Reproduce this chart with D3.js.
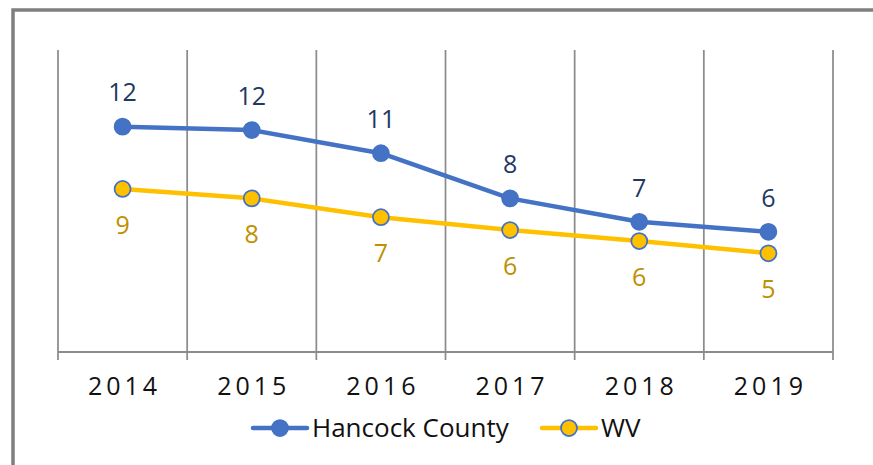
<!DOCTYPE html>
<html>
<head>
<meta charset="utf-8">
<script src="https://cdn.jsdelivr.net/npm/d3@7"></script>
<style>
  body { margin: 0; background: #fff; }
  svg { display: block; font-family: "Open Sans", sans-serif; }
</style>
</head>
<body>
<div id="chart"></div>
<script>
const years = ["2014", "2015", "2016", "2017", "2018", "2019"];
const hancock = [11.94, 11.76, 10.53, 8.14, 6.9, 6.37];
const wv = [8.64, 8.14, 7.14, 6.46, 5.88, 5.23];
const seriesNames = ["Hancock County", "WV"];

const width = 873, height = 465;
const margins = { top: 50, right: 40, bottom: 113, left: 58 };

const blue = "#4472C4", gold = "#FFC000";

const svg = d3.select("#chart").append("svg")
    .attr("width", width)
    .attr("height", height);

// outer frame (runs off the right / bottom edge)
svg.append("rect")
    .attr("x", 13).attr("y", 10)
    .attr("width", 900).attr("height", 500)
    .attr("fill", "none")
    .attr("stroke", "#7f7f7f")
    .attr("stroke-width", 3.5);

const x = d3.scaleBand()
    .domain(years)
    .range([margins.left, width - margins.right])
    .padding(0);
const y = d3.scaleLinear()
    .domain([0, 16])
    .range([height - margins.bottom, margins.top]);

const edges = years.map(d => x(d)).concat([x.range()[1]]);

// vertical gridlines between categories
svg.append("g").selectAll("line")
    .data(edges)
    .join("line")
    .attr("x1", d => d).attr("x2", d => d)
    .attr("y1", y(16)).attr("y2", y(0) + 8)
    .attr("stroke", "#8c8c8c")
    .attr("stroke-width", 1.75);

// category axis
svg.append("line")
    .attr("x1", edges[0]).attr("x2", edges[edges.length - 1])
    .attr("y1", y(0)).attr("y2", y(0))
    .attr("stroke", "#8c8c8c")
    .attr("stroke-width", 2);

const gx = svg.append("g")
    .attr("transform", `translate(0,${y(0)})`)
    .call(d3.axisBottom(x).tickSize(0).tickPadding(0))
    .call(g => g.select(".domain").remove());
gx.selectAll("text")
    .attr("y", 43)
    .attr("dy", 0)
    .attr("dx", 2)
    .attr("fill", "#111")
    .style("font-size", "25px")
    .style("letter-spacing", "4px")
    .style("font-family", "'Open Sans', sans-serif");

const cx = d => x(d) + x.bandwidth() / 2;
const line = d3.line().x((d, i) => cx(years[i])).y(d => y(d));

const series = [
    { name: seriesNames[0], values: hancock, stroke: blue, fill: blue, label: "#1F3864", dy: -34 },
    { name: seriesNames[1], values: wv, stroke: gold, fill: gold, label: "#BF9000", dy: 36 }
];

series.forEach(s => {
    svg.append("path")
        .datum(s.values)
        .attr("d", line)
        .attr("fill", "none")
        .attr("stroke", s.stroke)
        .attr("stroke-width", 4.5)
        .attr("stroke-linejoin", "round");

    svg.append("g").selectAll("circle")
        .data(s.values)
        .join("circle")
        .attr("cx", (d, i) => cx(years[i]))
        .attr("cy", d => y(d))
        .attr("r", 8)
        .attr("fill", s.fill)
        .attr("stroke", blue)
        .attr("stroke-width", 1.75);

    svg.append("g").selectAll("text")
        .data(s.values)
        .join("text")
        .attr("x", (d, i) => cx(years[i]))
        .attr("y", d => y(d) + s.dy)
        .attr("dy", "0.35em")
        .attr("text-anchor", "middle")
        .attr("fill", s.label)
        .style("font-size", "25px")
        .text(d => d3.format(".0f")(d));
});

// legend
const legendItems = [
    { name: seriesNames[0], x: 253, fill: blue },
    { name: seriesNames[1], x: 542, fill: gold }
];
const lg = svg.append("g").attr("transform", "translate(0,428)");
legendItems.forEach(it => {
    lg.append("line")
        .attr("x1", it.x).attr("x2", it.x + 54)
        .attr("stroke", it.fill === blue ? blue : gold)
        .attr("stroke-width", 4.5)
        .attr("stroke-linecap", "round");
    lg.append("circle")
        .attr("cx", it.x + 27).attr("cy", 0)
        .attr("r", 8)
        .attr("fill", it.fill)
        .attr("stroke", blue)
        .attr("stroke-width", 1.75);
    lg.append("text")
        .attr("x", it.x + 59)
        .attr("y", 9)
        .attr("fill", "#111")
        .style("font-size", "26px")
        .text(it.name);
});
</script>
</body>
</html>
